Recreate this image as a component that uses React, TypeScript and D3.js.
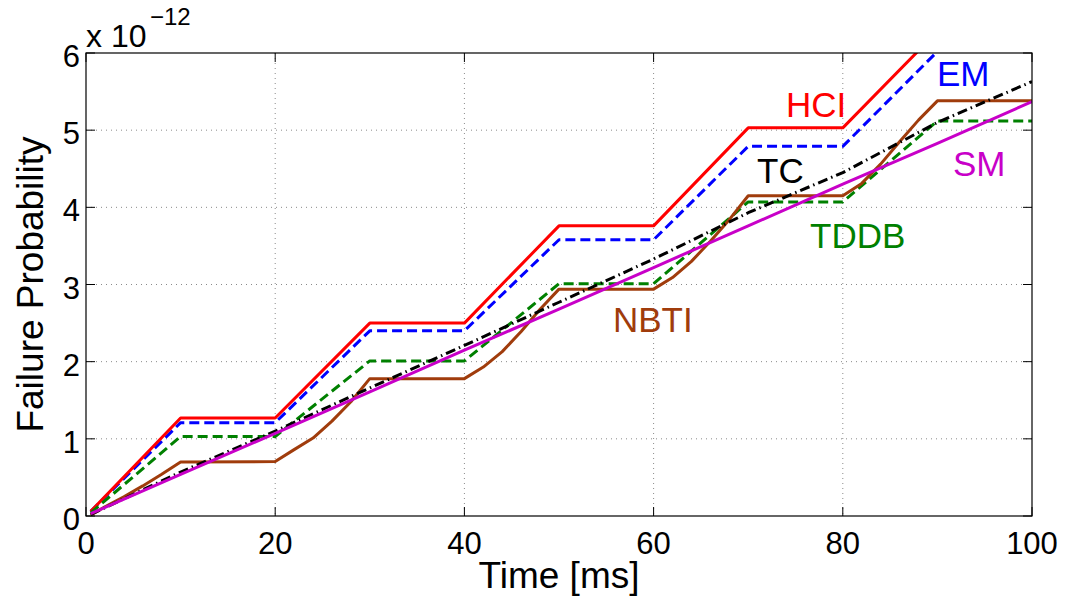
import React from 'react';
import * as d3 from 'd3';

// time axis (ms) for the step-like series
const timeSteps = [0.5, 10, 20, 30, 40, 50, 60, 70, 80, 90, 100];

// failure probability, in units of 1e-12
const hci = [0.06, 1.27, 1.27, 2.5, 2.5, 3.76, 3.76, 5.03, 5.03, 6.28, 6.28];
const em = [0.06, 1.21, 1.21, 2.4, 2.4, 3.58, 3.58, 4.79, 4.79, 6.02, 6.02];
const tddb = [0.04, 1.03, 1.03, 2.01, 2.01, 3.01, 3.01, 4.07, 4.07, 5.12, 5.12];
const tc = [0.02, 0.57, 1.1, 1.66, 2.21, 2.77, 3.33, 3.93, 4.45, 5.1, 5.63];
const sm = [0.03, 0.54, 1.07, 1.61, 2.15, 2.68, 3.22, 3.76, 4.3, 4.83, 5.37];

// NBTI has curved rising segments, so it is sampled finer
const nbtiTime = [0.5, 2, 4, 6, 8, 10, 20, 22, 24, 26, 28, 30, 40, 42, 44, 46, 48, 50,
  60, 62, 64, 66, 68, 70, 80, 82, 84, 86, 88, 90, 100];
const nbti = [0.01, 0.12, 0.25, 0.39, 0.54, 0.7, 0.705, 0.86, 1.01, 1.23, 1.48, 1.78, 1.78,
  1.93, 2.13, 2.39, 2.68, 2.94, 2.94, 3.09, 3.3, 3.56, 3.84, 4.15, 4.15, 4.31, 4.56, 4.85,
  5.13, 5.38, 5.38];

const xTicks = [0, 20, 40, 60, 80, 100];
const yTicks = [0, 1, 2, 3, 4, 5, 6];

const font = '"Liberation Sans", Arial, Helvetica, sans-serif';

const series = [
  { name: 'EM', t: timeSteps, v: em, color: '#0000ff', dash: '10,5', label: [937, 86] },
  { name: 'HCI', t: timeSteps, v: hci, color: '#ff0000', dash: null, label: [786, 117] },
  { name: 'TDDB', t: timeSteps, v: tddb, color: '#008000', dash: '10,5', label: [810, 248] },
  { name: 'NBTI', t: nbtiTime, v: nbti, color: '#a03c0c', dash: null, label: [613, 332] },
  { name: 'TC', t: timeSteps, v: tc, color: '#000000', dash: '10,4,1.5,4', label: [757, 183] },
  { name: 'SM', t: timeSteps, v: sm, color: '#c800c8', dash: null, label: [953, 176] },
];

export default function App() {
  const W = 1078;
  const H = 597;
  const left = 86, right = 1032, top = 53, bottom = 516;

  const x = d3.scaleLinear().domain([0, 100]).range([left, right]);
  const y = d3.scaleLinear().domain([0, 6]).range([bottom, top]);

  const line = d3.line<[number, number]>()
    .x((d) => x(d[0]))
    .y((d) => y(d[1]));

  const tickLen = 9;

  return (
    <div style={{ position: 'fixed', left: 0, top: 0, background: '#fff' }}>
      <svg width={W} height={H} style={{ display: 'block', background: '#fff' }} fontFamily={font}>
        <defs>
          <clipPath id="plotClip">
            <rect x={left} y={top} width={right - left} height={bottom - top} />
          </clipPath>
        </defs>

        {/* grid */}
        {xTicks.slice(1, -1).map((t) => (
          <line key={'gx' + t} x1={x(t)} x2={x(t)} y1={top} y2={bottom}
            stroke="#8a8a8a" strokeWidth={1} strokeDasharray="1,4" />
        ))}
        {yTicks.slice(1, -1).map((t) => (
          <line key={'gy' + t} x1={left} x2={right} y1={y(t)} y2={y(t)}
            stroke="#8a8a8a" strokeWidth={1} strokeDasharray="1,4" />
        ))}

        {/* series */}
        <g clipPath="url(#plotClip)">
          {series.map((s) => (
            <path key={s.name}
              d={line(s.t.map((t, i) => [t, s.v[i]] as [number, number])) || ''}
              fill="none" stroke={s.color} strokeWidth={3}
              strokeDasharray={s.dash || undefined}
              strokeLinejoin="round" />
          ))}
        </g>

        {/* box and ticks */}
        <rect x={left} y={top} width={right - left} height={bottom - top}
          fill="none" stroke="#000" strokeWidth={1.2} />
        {xTicks.map((t) => (
          <g key={'tx' + t}>
            <line x1={x(t)} x2={x(t)} y1={bottom} y2={bottom - tickLen} stroke="#000" />
            <line x1={x(t)} x2={x(t)} y1={top} y2={top + tickLen} stroke="#000" />
            <text x={x(t)} y={554} textAnchor="middle" fontSize={31} fill="#000">{t}</text>
          </g>
        ))}
        {yTicks.map((t) => (
          <g key={'ty' + t}>
            <line x1={left} x2={left + tickLen} y1={y(t)} y2={y(t)} stroke="#000" />
            <line x1={right} x2={right - tickLen} y1={y(t)} y2={y(t)} stroke="#000" />
            <text x={80} y={y(t) + 14} textAnchor="end" fontSize={31} fill="#000">{t}</text>
          </g>
        ))}

        {/* exponent */}
        <text x={86} y={47} fontSize={32} fill="#000">x 10</text>
        <text x={150} y={25} fontSize={24} fill="#000">−12</text>

        {/* axis labels */}
        <text x={(left + right) / 2} y={588} textAnchor="middle" fontSize={37} fill="#000">Time [ms]</text>
        <text transform={`translate(43, ${(top + bottom) / 2}) rotate(-90)`} textAnchor="middle"
          fontSize={37} fill="#000">Failure Probability</text>

        {/* curve labels */}
        {series.map((s) => (
          <text key={'l' + s.name} x={s.label[0]} y={s.label[1]} fontSize={35} fill={s.color}>
            {s.name}
          </text>
        ))}
      </svg>
    </div>
  );
}
